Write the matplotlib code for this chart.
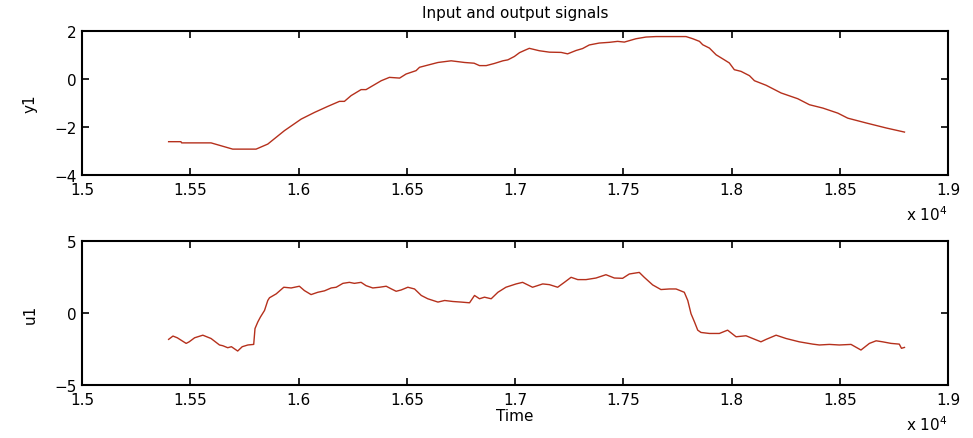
import matplotlib
matplotlib.use("Agg")
import matplotlib.pyplot as plt
from matplotlib.ticker import FixedLocator

plt.rcParams['font.family'] = ['DejaVu Sans']

# ---- data ----
t_y1 = [15400, 15457, 15460, 15596, 15696, 15804, 15858, 15935, 16012, 16074,
        16135, 16189, 16212, 16243, 16289, 16312, 16382, 16420, 16467, 16497,
        16543, 16559, 16597, 16644, 16705, 16767, 16811, 16836, 16867, 16905,
        16944, 16967, 16997, 17021, 17043, 17066, 17112, 17159, 17213, 17243,
        17282, 17312, 17343, 17389, 17436, 17474, 17505, 17559, 17605, 17652,
        17790, 17821, 17852, 17867, 17898, 17929, 17967, 17990, 18013, 18044,
        18083, 18106, 18160, 18229, 18306, 18360, 18422, 18491, 18537, 18622,
        18715, 18799]
y1 = [-2.61, -2.61, -2.66, -2.66, -2.92, -2.92, -2.71, -2.15, -1.67, -1.39,
      -1.14, -0.93, -0.93, -0.69, -0.44, -0.44, -0.07, 0.07, 0.04, 0.21,
      0.35, 0.49, 0.58, 0.69, 0.76, 0.69, 0.66, 0.56, 0.56, 0.65,
      0.76, 0.80, 0.94, 1.10, 1.19, 1.28, 1.18, 1.12, 1.11, 1.05,
      1.19, 1.27, 1.42, 1.50, 1.53, 1.57, 1.54, 1.68, 1.75, 1.77,
      1.77, 1.68, 1.57, 1.43, 1.29, 1.01, 0.80, 0.67, 0.39, 0.32,
      0.14, -0.07, -0.26, -0.58, -0.82, -1.07, -1.21, -1.42, -1.63, -1.83,
      -2.04, -2.21]

t_u1 = [15400, 15420, 15440, 15481, 15495, 15520, 15558, 15596, 15635, 15650,
        15673, 15690, 15719, 15740, 15766, 15793, 15799, 15812, 15824, 15843,
        15858, 15866, 15897, 15932, 15966, 16004, 16027, 16058, 16089, 16120,
        16151, 16174, 16205, 16235, 16258, 16289, 16312, 16343, 16374, 16405,
        16428, 16451, 16474, 16505, 16536, 16567, 16597, 16644, 16675, 16713,
        16751, 16790, 16813, 16836, 16859, 16890, 16921, 16958, 17005, 17035,
        17081, 17128, 17159, 17197, 17228, 17259, 17290, 17328, 17374, 17420,
        17459, 17497, 17528, 17574, 17597, 17636, 17674, 17713, 17744, 17782,
        17798, 17813, 17829, 17844, 17859, 17898, 17944, 17982, 18021, 18067,
        18098, 18136, 18160, 18206, 18252, 18313, 18375, 18406, 18452, 18498,
        18552, 18598, 18637, 18668, 18698, 18737, 18775, 18785, 18799]
u1 = [-1.83, -1.60, -1.72, -2.11, -2.00, -1.72, -1.54, -1.77, -2.22, -2.27,
      -2.41, -2.34, -2.64, -2.34, -2.22, -2.18, -1.08, -0.62, -0.28, 0.18,
      0.87, 1.06, 1.33, 1.79, 1.74, 1.86, 1.56, 1.28, 1.44, 1.54,
      1.74, 1.79, 2.06, 2.13, 2.06, 2.13, 1.90, 1.74, 1.79, 1.86,
      1.68, 1.51, 1.60, 1.79, 1.67, 1.22, 0.99, 0.76, 0.87, 0.80,
      0.76, 0.71, 1.22, 0.99, 1.10, 0.99, 1.44, 1.79, 2.02, 2.13,
      1.79, 2.02, 1.97, 1.79, 2.13, 2.48, 2.32, 2.32, 2.43, 2.66,
      2.43, 2.41, 2.71, 2.82, 2.48, 1.95, 1.63, 1.67, 1.67, 1.44,
      0.87, -0.05, -0.62, -1.19, -1.35, -1.42, -1.42, -1.19, -1.65, -1.58,
      -1.77, -2.00, -1.83, -1.54, -1.77, -2.00, -2.16, -2.22, -2.18, -2.22,
      -2.18, -2.57, -2.11, -1.93, -2.00, -2.11, -2.16, -2.45, -2.39]

xticks = [15000, 15500, 16000, 16500, 17000, 17500, 18000, 18500, 19000]
xtick_labels = ["1.5", "1.55", "1.6", "1.65", "1.7", "1.75", "1.8", "1.85", "1.9"]
y1_ticks = [-4, -2, 0, 2]
u1_ticks = [-5, 0, 5]

line_color = '#b5301c'
fs = 11

fig = plt.figure(figsize=(9.73, 4.39), dpi=100)
ax1 = fig.add_axes([0.0843, 0.599, 0.890, 0.328])
ax2 = fig.add_axes([0.0843, 0.1207, 0.890, 0.328])

for ax, t, v, yt, lab in [(ax1, t_y1, y1, y1_ticks, 'y1'), (ax2, t_u1, u1, u1_ticks, 'u1')]:
    ax.plot(t, v, color=line_color, lw=1.0)
    ax.set_xlim(15000, 19000)
    ax.set_ylim(yt[0], yt[-1])
    ax.xaxis.set_major_locator(FixedLocator(xticks))
    ax.set_xticklabels(xtick_labels)
    ax.set_yticks(yt)
    ax.tick_params(direction='in', top=True, right=True, length=5, width=1.2,
                   labelsize=fs)
    ax.tick_params(axis='x', pad=5)
    ax.tick_params(axis='y', pad=4)
    for s in ax.spines.values():
        s.set_linewidth(1.5)
    ax.set_ylabel(lab, fontsize=fs, labelpad=12)
    ax.text(1.0, -0.20, r'x 10$^4$', transform=ax.transAxes, ha='right', va='top', fontsize=fs)

ax1.set_title('Input and output signals', fontsize=fs, pad=10)
ax2.set_xlabel('Time', fontsize=fs, labelpad=1)

fig.savefig('out.png', dpi=100)
